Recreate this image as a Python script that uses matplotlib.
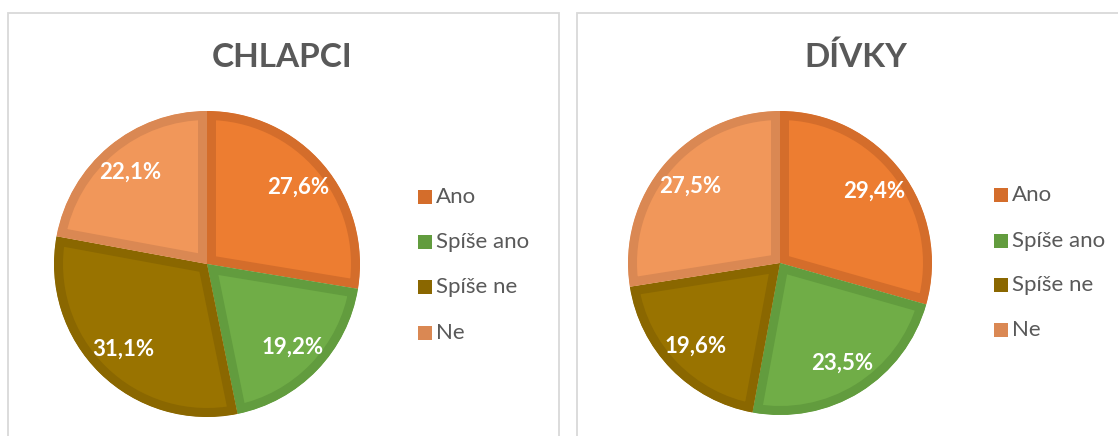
import matplotlib
matplotlib.use("Agg")
import matplotlib.pyplot as plt
from matplotlib.patches import Rectangle

plt.rcParams['font.family'] = ['Lato', 'DejaVu Sans']

categories = ["Ano", "Spíše ano", "Spíše ne", "Ne"]
boys = [27.6, 19.2, 31.1, 22.1]
girls = [29.4, 23.5, 19.6, 27.5]
titles = ["CHLAPCI", "DÍVKY"]

fill_colors = ["#ED7D31", "#70AD47", "#997300", "#F1975A"]
edge_colors = ["#D46D2B", "#629C3E", "#8A6700", "#DA8853"]

W, H = 1118, 436
fig = plt.figure(figsize=(W / 100, H / 100), dpi=100)
fig.patch.set_facecolor("white")

# panel borders (pixel coords from top-left)
for (x0, x1) in [(8, 559), (577, 1125)]:
    fig.add_artist(Rectangle((x0 / W, -0.05), (x1 - x0) / W, (H - 13) / H + 0.05,
                             transform=fig.transFigure, fill=False,
                             edgecolor="#D9D9D9", linewidth=1.3))

panels = [
    dict(data=boys, cx=207, cy=264, r=153, title_x=282, leg_x=418, leg_y=[197, 242, 287, 333]),
    dict(data=girls, cx=780, cy=263, r=152, title_x=856, leg_x=994, leg_y=[195, 241, 285, 330]),
]

band_px = 9
lw_pt = 2 * band_px * 72 / 100

for p, title in zip(panels, titles):
    cx, cy, r = p["cx"], p["cy"], p["r"]
    ax = fig.add_axes([(cx - r) / W, (H - cy - r) / H, 2 * r / W, 2 * r / H])
    wedges, texts, autotexts = ax.pie(
        p["data"], colors=fill_colors, startangle=90, counterclock=False,
        autopct=lambda v: f"{v:.1f}%".replace(".", ","), pctdistance=0.78,
        textprops=dict(color="white", fontsize=16, fontweight="bold"),
        wedgeprops=dict(linewidth=lw_pt), radius=1.0)
    for w, ec in zip(wedges, edge_colors):
        w.set_edgecolor(ec)
        w.set_clip_on(True)
        w.set_clip_path(w)
    ax.set_xlim(-1.0, 1.0)
    ax.set_ylim(-1.0, 1.0)
    ax.set_aspect("equal")
    ax.axis("off")

    fig.text(p["title_x"] / W, 1 - 57 / H, title, ha="center", va="center",
             fontsize=24, fontweight="bold", color="#595959")

    for cat, ec, ly in zip(categories, edge_colors, p["leg_y"]):
        sq = 14
        fig.add_artist(Rectangle((p["leg_x"] / W, (H - ly - sq / 2) / H), sq / W, sq / H,
                                 transform=fig.transFigure, facecolor=ec, edgecolor="none"))
        fig.text((p["leg_x"] + sq + 4) / W, 1 - ly / H, cat, ha="left", va="center",
                 fontsize=16, color="#595959")

fig.savefig("out.png", dpi=100, facecolor="white")
